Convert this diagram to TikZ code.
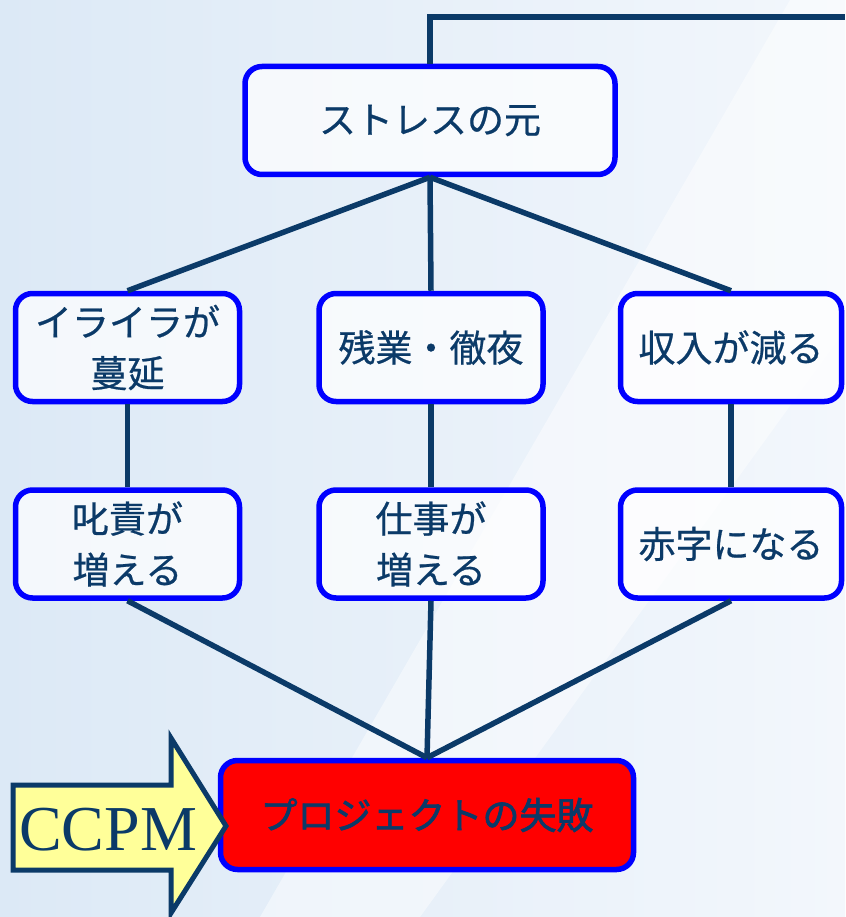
\documentclass[tikz,border=0pt]{standalone}
\usepackage{fontspec}
\setmainfont{Liberation Serif}
\newfontfamily\jp[FakeBold=0.6]{Noto Sans CJK JP}
\newfontfamily\jpb[FakeBold=1.8]{Noto Sans CJK JP}
\definecolor{navy}{HTML}{0B3A68}
\definecolor{bgblue}{HTML}{DCE9F6}
\definecolor{bglight}{HTML}{F3F7FC}
\definecolor{arrowyellow}{HTML}{FFFF99}
\begin{document}
\begin{tikzpicture}[x=1pt,y=-1pt,
  box/.style={draw=blue, line width=5.5pt, rounded corners=17pt, fill=white, fill opacity=0.7, text opacity=1,
    text=navy, font=\jp\fontsize{37}{51}\selectfont, align=center,
    minimum width=224pt, minimum height=108pt, inner sep=0pt},
  link/.style={draw=navy, line width=5.5pt}]
\useasboundingbox (0,0) rectangle (845,917);
% background
\shade[left color=bgblue, right color=bglight] (0,0) rectangle (845,917);
\fill[white, opacity=0.45] (790,0) -- (845,0) -- (845,330) -- (420,917) -- (260,917) -- cycle;
% nodes
\node[box, minimum width=370pt] (top) at (430,120.5) {ストレスの元};
\node[box] (l2) at (127.5,347.5) {イライラが\\蔓延};
\node[box] (m2) at (431,347.5) {残業・徹夜};
\node[box, minimum width=221pt] (r2) at (731,347.5) {収入が減る};
\node[box] (l3) at (127.5,544) {叱責が\\増える};
\node[box] (m3) at (431,544) {仕事が\\増える};
\node[box, minimum width=221pt] (r3) at (731,544) {赤字になる};
\node[box, fill=red, fill opacity=1, minimum width=413pt, minimum height=109pt, font=\jpb\fontsize{37}{44}\selectfont] (fail) at (427,815) {プロジェクトの失敗};
% connectors
\coordinate (edge) at (845,17);
\draw[link] (top.north) |- (edge);
\draw[link] (top.south) -- (l2.north);
\draw[link] (top.south) -- (m2.north);
\draw[link] (top.south) -- (r2.north);
\draw[link] (l2.south) -- (l3.north);
\draw[link] (m2.south) -- (m3.north);
\draw[link] (r2.south) -- (r3.north);
\draw[link] (l3.south) -- (fail.north);
\draw[link] (m3.south) -- (fail.north);
\draw[link] (r3.south) -- (fail.north);
% CCPM arrow
\draw[fill=arrowyellow, draw=navy, line width=5pt, line join=miter]
  (13,785) -- (171,785) -- (171,738) -- (226,826) -- (171,913) -- (171,870) -- (13,870) -- cycle;
\node[text=navy, font=\fontsize{64}{64}\selectfont, inner sep=0pt] (ccpm) at (108,830) {CCPM};
\end{tikzpicture}
\end{document}
